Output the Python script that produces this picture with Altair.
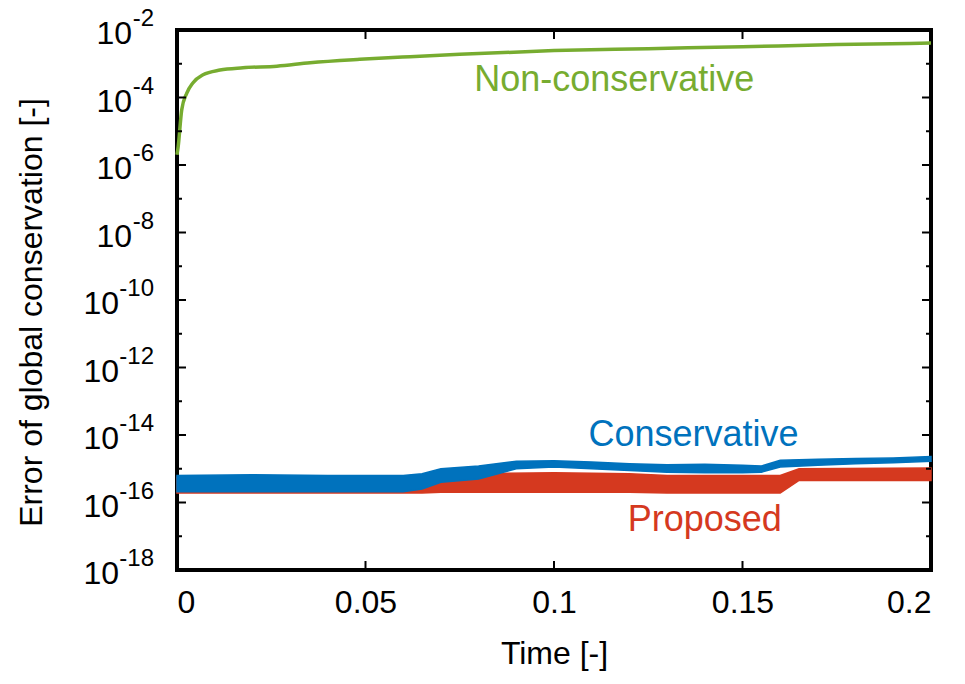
import altair as alt
import pandas as pd

# ---------------- data ----------------
# Non-conservative (green)
nc_time = [0.0, 0.0003, 0.00125, 0.0026, 0.0042, 0.0069, 0.0114, 0.0175, 0.0265,
           0.0353, 0.0485, 0.0618, 0.075, 0.1, 0.125, 0.15, 0.175, 0.2]
nc_value = [2e-6, 3.4e-6, 4.3e-5, 1.35e-4, 2.7e-4, 4.7e-4, 6.5e-4, 7.6e-4, 8.5e-4,
            1.07e-3, 1.35e-3, 1.62e-3, 1.9e-3, 2.45e-3, 2.8e-3, 3.2e-3, 3.7e-3, 4.1e-3]

# Conservative (blue) noisy band: lower / upper envelope
cons_time = [0.0, 0.02, 0.04, 0.06, 0.065, 0.07, 0.08, 0.09, 0.1, 0.11, 0.12, 0.13,
             0.14, 0.15, 0.155, 0.16, 0.17, 0.18, 0.19, 0.2]
cons_low = [2.1e-16, 2.1e-16, 2.1e-16, 2.1e-16, 2.5e-16, 4.0e-16, 5.0e-16, 1.0e-15, 1.12e-15,
            1.0e-15, 8.9e-16, 7.9e-16, 7.6e-16, 7.6e-16, 7.9e-16, 1.12e-15, 1.26e-15,
            1.41e-15, 1.51e-15, 1.66e-15]
cons_high = [6.3e-16, 6.6e-16, 6.3e-16, 6.3e-16, 7.1e-16, 1.0e-15, 1.2e-15, 1.66e-15, 1.74e-15,
             1.58e-15, 1.41e-15, 1.32e-15, 1.35e-15, 1.26e-15, 1.2e-15, 1.78e-15, 1.9e-15,
             2.0e-15, 2.1e-15, 2.3e-15]

# Proposed (red) noisy band: lower / upper envelope
prop_time = [0.0, 0.065, 0.07, 0.1, 0.12, 0.13, 0.16, 0.165, 0.2]
prop_low = [1.9e-16, 1.9e-16, 2.0e-16, 2.0e-16, 2.0e-16, 1.9e-16, 1.9e-16, 4.5e-16, 4.5e-16]
prop_high = [5.6e-16, 5.6e-16, 7.1e-16, 7.6e-16, 7.1e-16, 6.3e-16, 6.3e-16, 1.0e-15, 1.05e-15]

# tick values
x_ticks = [0, 0.05, 0.1, 0.15, 0.2]
x_inner_ticks = [0.05, 0.1, 0.15]
major_exp_1 = [-8, -6, -4, -2]
major_exp_2 = [-18, -16, -14, -12, -10]
minor_exp = [-17, -15, -13, -11, -9, -7, -5, -3]

# annotations (data coordinates)
ann_text = ["Non-conservative", "Conservative", "Proposed"]
ann_time = [0.116, 0.137, 0.140]
ann_value = [3.3e-4, 1.0e-14, 3.0e-17]

GREEN = "#77AC30"
BLUE = "#0072BD"
RED = "#D5391F"
FONT = "Liberation Sans"

W, H = 754, 540

xs = alt.Scale(domain=[0, 0.2], nice=False, zero=False)
ys = alt.Scale(type="log", domain=[1e-18, 1e-2], nice=False)

ax_x = alt.Axis(values=x_ticks, format="~g", title="Time [-]", ticks=False, domain=False,
                grid=False, labelFont=FONT, labelFontSize=32, labelPadding=17,
                labelColor="black", titleFont=FONT, titleFontSize=32, titleFontWeight="normal",
                titleColor="black", titlePadding=20)
ax_y = alt.Axis(labels=False, ticks=False, domain=False, grid=False,
                title="Error of global conservation [-]", titleFont=FONT, titleFontSize=32,
                titleFontWeight="normal", titleColor="black", titleX=-146, titleY=H / 2 + 12,
                titleAngle=270, titleAlign="center", titleBaseline="middle")

nc_df = pd.DataFrame({"t": nc_time, "v": nc_value})
cons_df = pd.DataFrame({"t": cons_time, "lo": cons_low, "hi": cons_high})
prop_df = pd.DataFrame({"t": prop_time, "lo": prop_low, "hi": prop_high})

green = alt.Chart(nc_df).mark_line(color=GREEN, strokeWidth=3.5, interpolate="monotone").encode(
    x=alt.X("t:Q", scale=xs, axis=ax_x),
    y=alt.Y("v:Q", scale=ys, axis=ax_y),
)

red = alt.Chart(prop_df).mark_area(color=RED, opacity=1, stroke=RED, strokeWidth=1.5).encode(
    x=alt.X("t:Q", scale=xs, axis=ax_x),
    y=alt.Y("lo:Q", scale=ys, axis=ax_y),
    y2="hi:Q",
)

blue = alt.Chart(cons_df).mark_area(color=BLUE, opacity=1, stroke=BLUE, strokeWidth=1.5).encode(
    x=alt.X("t:Q", scale=xs, axis=ax_x),
    y=alt.Y("lo:Q", scale=ys, axis=ax_y),
    y2="hi:Q",
)

ann_df = pd.DataFrame({"t": ann_time, "v": ann_value, "label": ann_text})
ann = alt.Chart(ann_df).mark_text(font=FONT, fontSize=36, align="center", baseline="middle").encode(
    x=alt.X("t:Q", scale=xs, axis=ax_x),
    y=alt.Y("v:Q", scale=ys, axis=ax_y),
    text="label:N",
    color=alt.Color("label:N", scale=alt.Scale(domain=ann_text, range=[GREEN, BLUE, RED]), legend=None),
)

# inward ticks
maj_df = pd.DataFrame({"e": major_exp_2 + major_exp_1})
maj_df["v"] = 10.0 ** maj_df["e"]
min_df = pd.DataFrame({"e": minor_exp})
min_df["v"] = 10.0 ** min_df["e"]


def ytick(df, x0, x1):
    return alt.Chart(df).mark_rule(color="black", strokeWidth=2).encode(
        y=alt.Y("v:Q", scale=ys, axis=ax_y), x=alt.value(x0), x2=alt.value(x1))


xt_df = pd.DataFrame({"t": x_inner_ticks})


def xtick(y0, y1):
    return alt.Chart(xt_df).mark_rule(color="black", strokeWidth=2).encode(
        x=alt.X("t:Q", scale=xs, axis=ax_x), y=alt.value(y0), y2=alt.value(y1))


ticks = [ytick(maj_df, 0, 9), ytick(maj_df, W, W - 9), ytick(min_df, 0, 5), ytick(min_df, W, W - 5),
         xtick(0, 9), xtick(H, H - 9)]


# y tick labels 10^{e}
def ylab(exps, exp_w):
    d = pd.DataFrame({"e": exps})
    d["v"] = 10.0 ** d["e"]
    d["base"] = "10"
    d["sup"] = d["e"].astype(str)
    base = alt.Chart(d).mark_text(font=FONT, fontSize=32, align="right", baseline="middle", dy=4,
                                  color="black").encode(
        y=alt.Y("v:Q", scale=ys, axis=ax_y), x=alt.value(-23 - exp_w), text="base:N")
    sup = alt.Chart(d).mark_text(font=FONT, fontSize=24, align="right", baseline="middle", dy=-11,
                                 color="black").encode(
        y=alt.Y("v:Q", scale=ys, axis=ax_y), x=alt.value(-23), text="sup:N")
    return [base, sup]


labels = ylab(major_exp_1, 22) + ylab(major_exp_2, 35)

chart = alt.layer(green, red, blue, ann, *ticks, *labels).properties(
    width=W, height=H,
    padding={"left": 177, "top": 30, "right": 34, "bottom": 114},
    autosize=alt.AutoSizeParams(type="none"),
    background="white",
).configure_view(stroke="black", strokeWidth=4)

chart.save("out.html", embed_options={"renderer": "svg", "actions": False})
